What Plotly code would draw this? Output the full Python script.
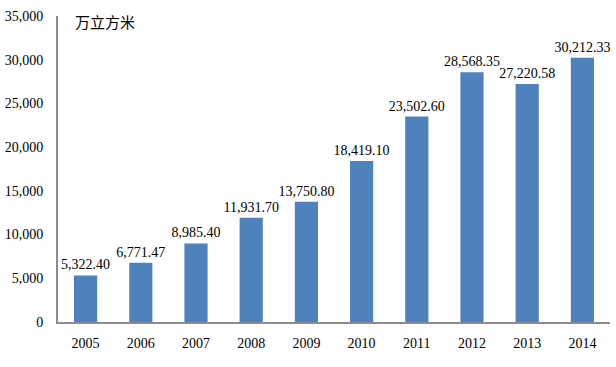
import plotly.graph_objects as go

years = ["2005", "2006", "2007", "2008", "2009", "2010", "2011", "2012", "2013", "2014"]
values = [5322.40, 6771.47, 8985.40, 11931.70, 13750.80, 18419.10, 23502.60, 28568.35, 27220.58, 30212.33]
value_labels = ["5,322.40", "6,771.47", "8,985.40", "11,931.70", "13,750.80", "18,419.10",
                "23,502.60", "28,568.35", "27,220.58", "30,212.33"]
y_ticks = [0, 5000, 10000, 15000, 20000, 25000, 30000, 35000]
y_tick_text = ["0", "5,000", "10,000", "15,000", "20,000", "25,000", "30,000", "35,000"]
unit = "万立方米"

serif = "Liberation Serif, Times New Roman, serif"

fig = go.Figure(go.Bar(
    x=years, y=values,
    marker=dict(color="#4F81BD", line=dict(width=0)),
    text=value_labels, textposition="outside", constraintext="none",
    textfont=dict(family=serif, size=14, color="#000"),
    cliponaxis=False,
))

fig.update_layout(
    width=616, height=367,
    margin=dict(l=58, r=6, t=16, b=45),
    paper_bgcolor="white", plot_bgcolor="white",
    bargap=0.58,
    showlegend=False,
    font=dict(family=serif, size=13, color="#000"),
    annotations=[dict(
        text=unit, xref="paper", yref="paper", x=0.028, y=0.982,
        xanchor="left", yanchor="middle", showarrow=False,
        font=dict(family="Noto Sans CJK SC", size=15, color="#000"),
    )],
)
fig.update_xaxes(
    showline=True, linecolor="#8c8c8c", linewidth=2,
    ticks="", showgrid=False, automargin=False,
    tickfont=dict(family=serif, size=14, color="#000"),
    ticklabelstandoff=7,
)
fig.update_yaxes(
    range=[0, 35000], tickvals=y_ticks, ticktext=y_tick_text,
    showline=True, linecolor="#8c8c8c", linewidth=2,
    ticks="", showgrid=False, zeroline=False, automargin=False,
    tickfont=dict(family=serif, size=14, color="#000"),
    ticklabelstandoff=10,
)

fig.write_html("out.html",
               config={"displayModeBar": False},
               post_script="document.body.style.margin='0';document.body.style.overflow='hidden';")
